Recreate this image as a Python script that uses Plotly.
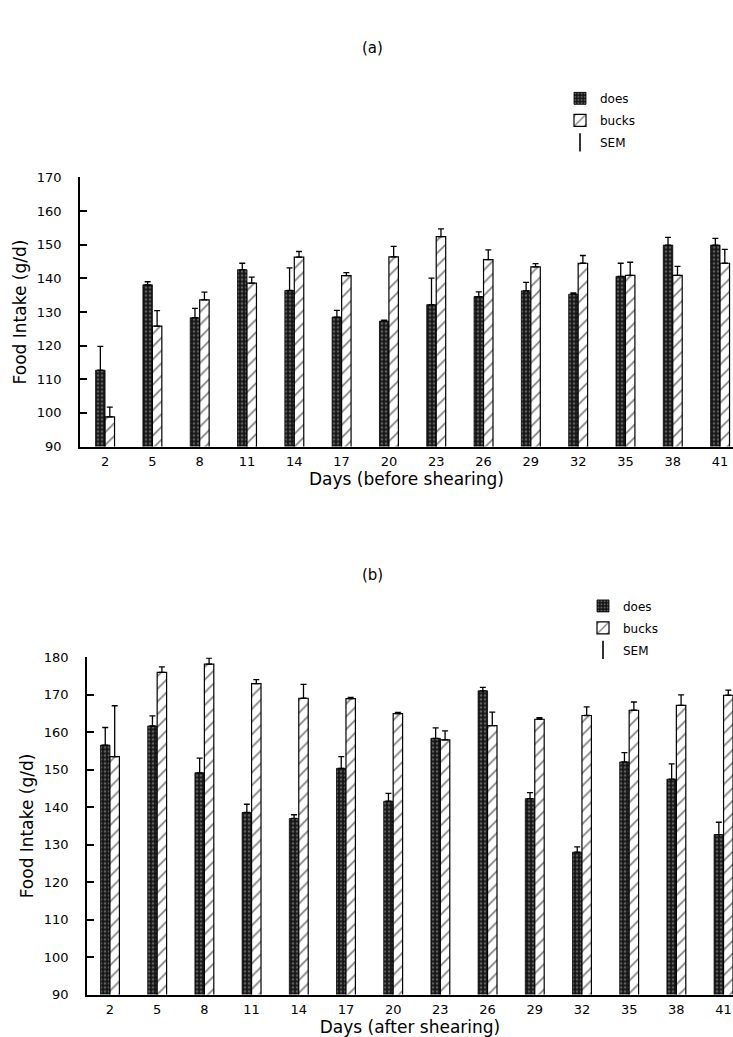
import plotly.graph_objects as go

days = [2, 5, 8, 11, 14, 17, 20, 23, 26, 29, 32, 35, 38, 41]

# (a) before shearing
a_does = [112.7, 138.1, 128.3, 142.6, 136.4, 128.5, 127.3, 132.2, 134.6, 136.3, 135.3, 140.6, 149.9, 149.9]
a_does_sem = [7.1, 0.9, 2.8, 1.9, 6.7, 2.0, 0.3, 7.9, 1.4, 2.5, 0.4, 3.9, 2.3, 2.0]
a_bucks = [98.8, 125.8, 133.6, 138.6, 146.3, 140.8, 146.4, 152.4, 145.6, 143.4, 144.5, 140.9, 140.9, 144.5]
a_bucks_sem = [2.9, 4.6, 2.3, 1.8, 1.7, 0.9, 3.1, 2.3, 2.9, 1.0, 2.3, 3.9, 2.7, 4.1]

# (b) after shearing
b_does = [156.6, 161.7, 149.2, 138.6, 137.0, 150.4, 141.6, 158.4, 171.1, 142.3, 128.0, 152.1, 147.5, 132.7]
b_does_sem = [4.7, 2.7, 3.9, 2.2, 1.0, 3.1, 2.1, 2.8, 0.9, 1.6, 1.4, 2.5, 4.1, 3.3]
b_bucks = [153.5, 176.0, 178.2, 173.0, 169.1, 169.0, 165.0, 158.0, 161.8, 163.5, 164.5, 165.9, 167.2, 169.9]
b_bucks_sem = [13.6, 1.5, 1.6, 1.1, 3.7, 0.3, 0.3, 2.4, 3.6, 0.4, 2.3, 2.2, 2.8, 1.4]

a_yticks = [90, 100, 110, 120, 130, 140, 150, 160, 170]
b_yticks = [90, 100, 110, 120, 130, 140, 150, 160, 170, 180]

FONT = "DejaVu Sans"
W, H = 733, 1037

does_marker = dict(color="#1a1a1a",
                   line=dict(color="black", width=0.8),
                   pattern=dict(shape=".", fgcolor="#a8a8a8", bgcolor="#151515",
                                size=4, solidity=0.35))
bucks_marker = dict(color="white",
                    line=dict(color="black", width=1.2),
                    pattern=dict(shape="/", fgcolor="black", bgcolor="white",
                                 size=9, solidity=0.18))


def err(sem):
    return dict(type="data", array=sem, arrayminus=[0] * len(sem), symmetric=False,
                color="black", thickness=1.3, width=3)


fig = go.Figure()
panels = [
    ("x", "y", "legend", a_does, a_does_sem, a_bucks, a_bucks_sem),
    ("x2", "y2", "legend2", b_does, b_does_sem, b_bucks, b_bucks_sem),
]
for xa, ya, lg, d, ds, bk, bks in panels:
    fig.add_trace(go.Bar(x=days, y=d, name="does", marker=does_marker, error_y=err(ds),
                         xaxis=xa, yaxis=ya, legend=lg, legendgroup=lg + "d"))
    fig.add_trace(go.Bar(x=days, y=bk, name="bucks", marker=bucks_marker, error_y=err(bks),
                         xaxis=xa, yaxis=ya, legend=lg, legendgroup=lg + "b"))
    fig.add_trace(go.Scatter(x=[None], y=[None], mode="markers", name="SEM",
                             marker=dict(symbol="line-ns-open", size=13, color="black",
                                         line=dict(color="black", width=1.6)),
                             xaxis=xa, yaxis=ya, legend=lg, legendgroup=lg + "s"))

tickfont = dict(family=FONT, size=13, color="black")
titlefont = dict(family=FONT, size=17, color="black")


def xaxis(dom, rng, title, anchor):
    return dict(domain=dom, range=rng, anchor=anchor, tickvals=days,
                ticktext=[str(v) for v in days], ticks="", showline=True,
                linecolor="black", linewidth=1.5, showgrid=False, zeroline=False,
                tickfont=tickfont, ticklabelstandoff=2,
                title=dict(text=title, font=titlefont, standoff=4))


def yaxis(dom, rng, tv, anchor):
    return dict(domain=dom, range=rng, anchor=anchor, tickvals=tv, ticks="inside",
                ticklen=7, tickwidth=1.5, tickcolor="black", showline=True,
                linecolor="black", linewidth=1.5, showgrid=False, zeroline=False,
                tickfont=tickfont, ticklabelstandoff=14,
                title=dict(text="Food Intake (g/d)", font=titlefont, standoff=6))


fig.update_layout(
    width=W, height=H, autosize=False,
    margin=dict(l=0, r=0, t=0, b=0),
    paper_bgcolor="white", plot_bgcolor="white",
    barmode="group", bargap=0.6, bargroupgap=0,
    font=dict(family=FONT, color="black"),
    xaxis=xaxis([80 / W, 1], [0.41, 41.82], "Days (before shearing)", "y"),
    yaxis=yaxis([1 - 446 / H, 1 - 173 / H], [90, 170], a_yticks, "x"),
    xaxis2=xaxis([87 / W, 1], [0.54, 41.6], "Days (after shearing)", "y2"),
    yaxis2=yaxis([1 - 1002 / H, 1 - 660 / H], [90, 180], b_yticks, "x2"),
    legend=dict(x=560 / W, y=1 - 78 / H, xanchor="left", yanchor="top",
                font=dict(family=FONT, size=12, color="black"),
                tracegroupgap=3, bgcolor="rgba(0,0,0,0)", traceorder="grouped"),
    legend2=dict(x=583 / W, y=1 - 593 / H, xanchor="left", yanchor="top",
                 font=dict(family=FONT, size=12, color="black"),
                 tracegroupgap=3, bgcolor="rgba(0,0,0,0)", traceorder="grouped"),
    annotations=[
        dict(text="(a)", x=372 / W, y=1 - 42 / H, xref="paper", yref="paper",
             xanchor="center", yanchor="middle",
             showarrow=False, font=dict(family=FONT, size=15, color="black")),
        dict(text="(b)", x=372 / W, y=1 - 576 / H, xref="paper", yref="paper",
             xanchor="center", yanchor="middle",
             showarrow=False, font=dict(family=FONT, size=15, color="black")),
    ],
)

fig.write_html(
    "out.html",
    config={"displayModeBar": False},
    post_script="document.body.style.margin='0';document.body.style.overflow='hidden';",
)
